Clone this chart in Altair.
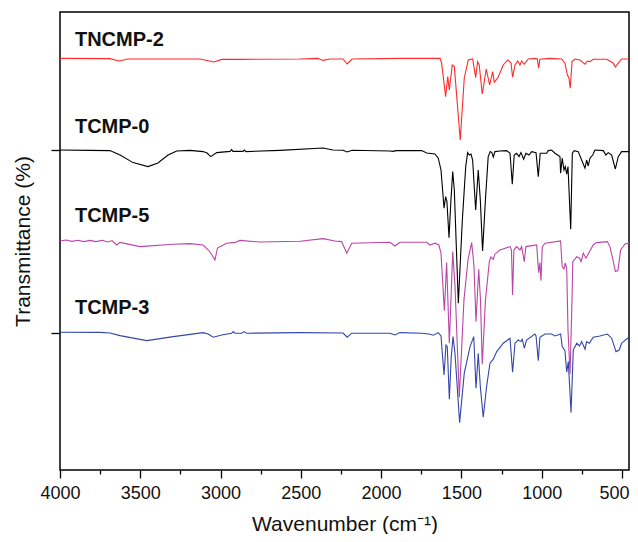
import altair as alt
import pandas as pd

# ---------------- data ----------------
series_names = ["TNCMP-2", "TCMP-0", "TCMP-5", "TCMP-3"]
series_colors = ["#ff2a2a", "#000000", "#b845a8", "#3446a8"]
series_offsets = [137, 91.5, 46, 0]

tncmp2_wn = [4000, 3689, 3633, 3577, 3128, 3041, 2991, 2879, 2505, 2393, 2362, 2318, 2237, 2212, 2181,
             1883, 1633, 1623, 1598, 1585, 1575, 1557, 1544, 1507, 1482, 1457, 1430, 1411, 1399, 1389,
             1370, 1345, 1324, 1305, 1295, 1274, 1239, 1212, 1191, 1181, 1166, 1149, 1135, 1125, 1108,
             1083, 1042, 1027, 1019, 1011, 948, 875, 855, 840, 830, 822, 811, 793, 761, 745, 730, 716,
             699, 679, 595, 575, 554, 541, 523, 502, 413]
tncmp2_t = [100.3, 100.2, 99.0, 100.0, 100.0, 98.5, 99.8, 99.8, 100.0, 100.3, 99.3, 100.0, 100.0, 97.5, 100.0,
            100.3, 100.3, 97.9, 81.2, 91.2, 84.5, 97.0, 96.2, 59.5, 90.5, 99.5, 100.0, 90.7, 98.7, 97.0,
            82.5, 95.0, 87.0, 93.7, 88.4, 90.4, 97.0, 99.5, 98.0, 90.9, 97.0, 99.0, 97.0, 99.0, 97.4,
            100.0, 100.3, 100.0, 95.4, 99.9, 100.3, 100.0, 97.9, 92.0, 90.5, 85.4, 98.7, 100.0, 99.5, 98.4, 97.4, 99.0,
            98.7, 99.9, 99.9, 99.0, 97.9, 96.0, 97.9, 100.0, 100.0]

tcmp0_wn = [4000, 3813, 3689, 3626, 3545, 3452, 3390, 3327, 3273, 3190, 3109, 3084, 3061, 3024, 2941, 2931,
            2923, 2860, 2852, 2842, 2630, 2362, 2300, 2237, 2212, 2181, 1945, 1926, 1907, 1747, 1716, 1665,
            1644, 1627, 1608, 1598, 1590, 1577, 1565, 1554, 1544, 1519, 1494, 1473, 1461, 1451, 1440, 1430,
            1411, 1395, 1382, 1368, 1349, 1333, 1320, 1310, 1301, 1291, 1260, 1218, 1197, 1183, 1171, 1156,
            1141, 1129, 1112, 1098, 1079, 1062, 1035, 1021, 1009, 969, 959, 938, 917, 886, 882, 872, 861,
            853, 844, 836, 819, 809, 797, 772, 751, 730, 720, 710, 699, 682, 668, 616, 600, 585, 564, 541,
            523, 502, 413]
tcmp0_t = [100.0, 99.8, 99.7, 97.5, 93.7, 91.7, 93.5, 97.5, 99.5, 99.8, 99.2, 98.5, 96.7, 98.7, 99.3, 100.2,
           99.3, 99.3, 100.0, 99.2, 99.8, 101.0, 100.0, 99.9, 99.0, 99.9, 99.5, 99.3, 99.7, 99.7, 98.5, 98.0,
           95.9, 90.0, 70.9, 76.7, 74.2, 56.2, 75.0, 89.2, 80.0, 23.4, 65.0, 91.7, 98.7, 97.5, 98.0, 95.0,
           70.0, 90.0, 75.0, 49.5, 76.7, 96.7, 99.2, 98.7, 96.4, 99.2, 99.5, 99.7, 98.4, 82.9, 97.5, 98.4,
           96.7, 98.7, 95.4, 98.4, 97.5, 99.2, 98.7, 86.7, 98.4, 98.4, 99.7, 100.0, 98.4, 96.7, 88.4, 95.9, 90.0,
           91.7, 87.9, 91.7, 60.4, 98.4, 99.7, 99.2, 95.0, 90.9, 95.0, 92.0, 95.9, 97.5, 100.0, 99.7, 97.5, 98.7, 97.5, 90.5,
           96.7, 99.2, 99.2]

tcmp5_wn = [4000, 3963, 3925, 3888, 3851, 3813, 3776, 3738, 3701, 3676, 3647, 3626, 3502, 3294, 3190, 3109,
            3076, 3053, 3035, 3019, 2962, 2910, 2879, 2754, 2505, 2362, 2287, 2246, 2214, 2183, 1945, 1914,
            1883, 1716, 1696, 1665, 1640, 1627, 1606, 1592, 1575, 1554, 1540, 1513, 1484, 1459, 1436, 1422,
            1409, 1392, 1381, 1370, 1350, 1326, 1316, 1301, 1291, 1260, 1197, 1188, 1181, 1173, 1156, 1135,
            1125, 1108, 1098, 1031, 1019, 1011, 1004, 996, 979, 882, 872, 861, 853, 844, 836, 823, 811, 806,
            781, 764, 754, 741, 724, 710, 679, 657, 591, 575, 558, 541, 525, 508, 481, 413]
tcmp5_t = [100.0, 100.5, 99.8, 100.4, 99.7, 100.3, 99.7, 100.4, 99.5, 100.2, 98.0, 99.3, 97.2, 98.4, 98.7, 98.0,
           95.5, 93.0, 90.5, 96.5, 98.9, 99.3, 100.3, 99.5, 99.9, 101.2, 100.0, 99.7, 93.9, 98.9, 99.4, 97.5,
           99.4, 99.4, 98.0, 98.9, 98.0, 93.9, 65.2, 89.2, 48.9, 94.7, 78.0, 21.9, 70.5, 90.5, 99.2, 88.0,
           59.7, 85.9, 70.5, 38.4, 70.5, 89.7, 92.0, 90.9, 93.4, 95.5, 97.2, 95.5, 73.0, 95.5, 97.2, 95.5,
           97.2, 89.7, 97.2, 98.0, 84.2, 89.2, 80.2, 97.2, 98.9, 100.0, 87.2, 86.0, 88.9, 86.4, 55.5, 33.5, 70.5, 89.7,
           92.2, 91.4, 89.7, 93.9, 91.4, 93.5, 98.0, 99.2, 99.7, 97.2, 91.4, 84.7, 85.2, 95.5, 98.5, 99.7]

tcmp3_wn = [4000, 3751, 3689, 3626, 3460, 3294, 3108, 3078, 3045, 2993, 2931, 2921, 2910, 2868, 2854, 2837,
            2505, 2237, 2211, 2183, 1945, 1914, 1883, 1747, 1702, 1675, 1644, 1627, 1608, 1596, 1588, 1575,
            1563, 1552, 1540, 1511, 1482, 1446, 1423, 1409, 1395, 1382, 1364, 1343, 1322, 1301, 1280, 1239,
            1197, 1181, 1166, 1146, 1129, 1121, 1108, 1094, 1042, 1035, 1021, 1011, 979, 938, 917, 882, 872,
            855, 844, 834, 817, 803, 781, 764, 751, 730, 720, 703, 679, 637, 591, 564, 537, 517, 502, 471, 413]
tcmp3_t = [100.4, 100.3, 100.0, 98.7, 96.2, 98.2, 100.2, 99.5, 97.9, 99.0, 99.9, 100.7, 99.9, 99.9, 100.7, 99.9,
           100.2, 100.0, 97.9, 99.9, 99.9, 99.0, 100.2, 99.9, 99.5, 98.9, 100.2, 98.5, 79.0, 94.0, 93.2, 66.9,
           88.2, 98.2, 89.9, 55.2, 79.9, 93.2, 98.2, 72.4, 89.9, 73.2, 57.9, 73.2, 84.9, 86.9, 90.7, 94.9,
           97.4, 80.4, 94.9, 96.5, 95.7, 96.9, 92.4, 96.5, 99.5, 98.5, 86.2, 97.9, 99.5, 99.5, 98.5, 99.5, 93.2,
           91.2, 80.4, 85.7, 60.2, 91.5, 94.9, 93.5, 95.7, 91.9, 95.7, 94.9, 97.9, 98.5, 99.5, 97.4, 90.7, 91.5, 94.9, 97.0, 99.9]

label_wn = [3907, 3907, 3907, 3907]
label_y = [243.5, 200.0, 155.5, 109.5]

x_major = [4000, 3500, 3000, 2500, 2000, 1500, 1000, 500]
x_minor = [3750, 3250, 2750, 2250, 1750, 1250, 750]
y_ticks = [100, 191.5]

# ---------------- build table ----------------
all_wn = [tncmp2_wn, tcmp0_wn, tcmp5_wn, tcmp3_wn]
all_t = [tncmp2_t, tcmp0_t, tcmp5_t, tcmp3_t]
rows = []
for name, off, wns, ts in zip(series_names, series_offsets, all_wn, all_t):
    for i, (w, t) in enumerate(zip(wns, ts)):
        rows.append({"series": name, "wn": w, "T": t + off, "idx": i})
df = pd.DataFrame(rows)
labels_df = pd.DataFrame({"series": series_names, "wn": label_wn, "y": label_y})

FONT = "Liberation Sans"
xscale = alt.Scale(domain=[456, 4000], reverse=True, nice=False, zero=False)
yscale = alt.Scale(domain=[31.5, 260.5], nice=False, zero=False)

y_axis = alt.Axis(values=y_ticks, labels=False, tickSize=9, tickWidth=1.3, tickColor="black",
                  domain=False, grid=False, title="Transmittance (%)", titleFont=FONT,
                  titleFontSize=21, titleFontWeight="normal", titleColor="#111",
                  titlePadding=17)

lines = alt.Chart(df).mark_line(strokeWidth=1.1, clip=True).encode(
    x=alt.X("wn:Q", scale=xscale,
            axis=alt.Axis(orient="bottom", values=x_major, format="d", tickSize=8, tickWidth=1.3,
                          tickColor="black", labelFont=FONT, labelFontSize=18, labelColor="#111",
                          labelPadding=6, labelFlush=False,
                          labelOffset=alt.ExprRef("datum.value == 500 ? -8 : 0"),
                          domain=False, grid=False,
                          title="Wavenumber (cm\u207b\u00b9)", titleFont=FONT, titleFontSize=21,
                          titleFontWeight="normal", titleColor="#111", titlePadding=11)),
    y=alt.Y("T:Q", scale=yscale, axis=y_axis),
    color=alt.Color("series:N", scale=alt.Scale(domain=series_names, range=series_colors), legend=None),
    detail="series:N",
    order="idx:Q",
)

minor = alt.Chart(pd.DataFrame({"wn": x_minor})).mark_point(opacity=0).encode(
    x=alt.X("wn:Q", scale=xscale,
            axis=alt.Axis(orient="bottom", values=x_minor, labels=False, tickSize=4, tickWidth=1.3,
                          tickColor="black", domain=False, grid=False, title=None)),
)

texts = alt.Chart(labels_df).mark_text(align="left", baseline="alphabetic", font=FONT,
                                       fontSize=20, fontWeight="bold", color="#111").encode(
    x=alt.X("wn:Q", scale=xscale, axis=None),
    y=alt.Y("y:Q", scale=yscale, axis=y_axis),
    text="series:N",
)

chart = alt.layer(lines, texts, minor).resolve_axis(x="independent").properties(
    width=569, height=458,
    autosize=alt.AutoSizeParams(type="none"),
    padding={"left": 52, "top": 4, "right": 1, "bottom": 64},
    background="white",
).configure_view(stroke="black", strokeWidth=1.5)

chart.save("out.html", embed_options={"renderer": "svg", "actions": False})
